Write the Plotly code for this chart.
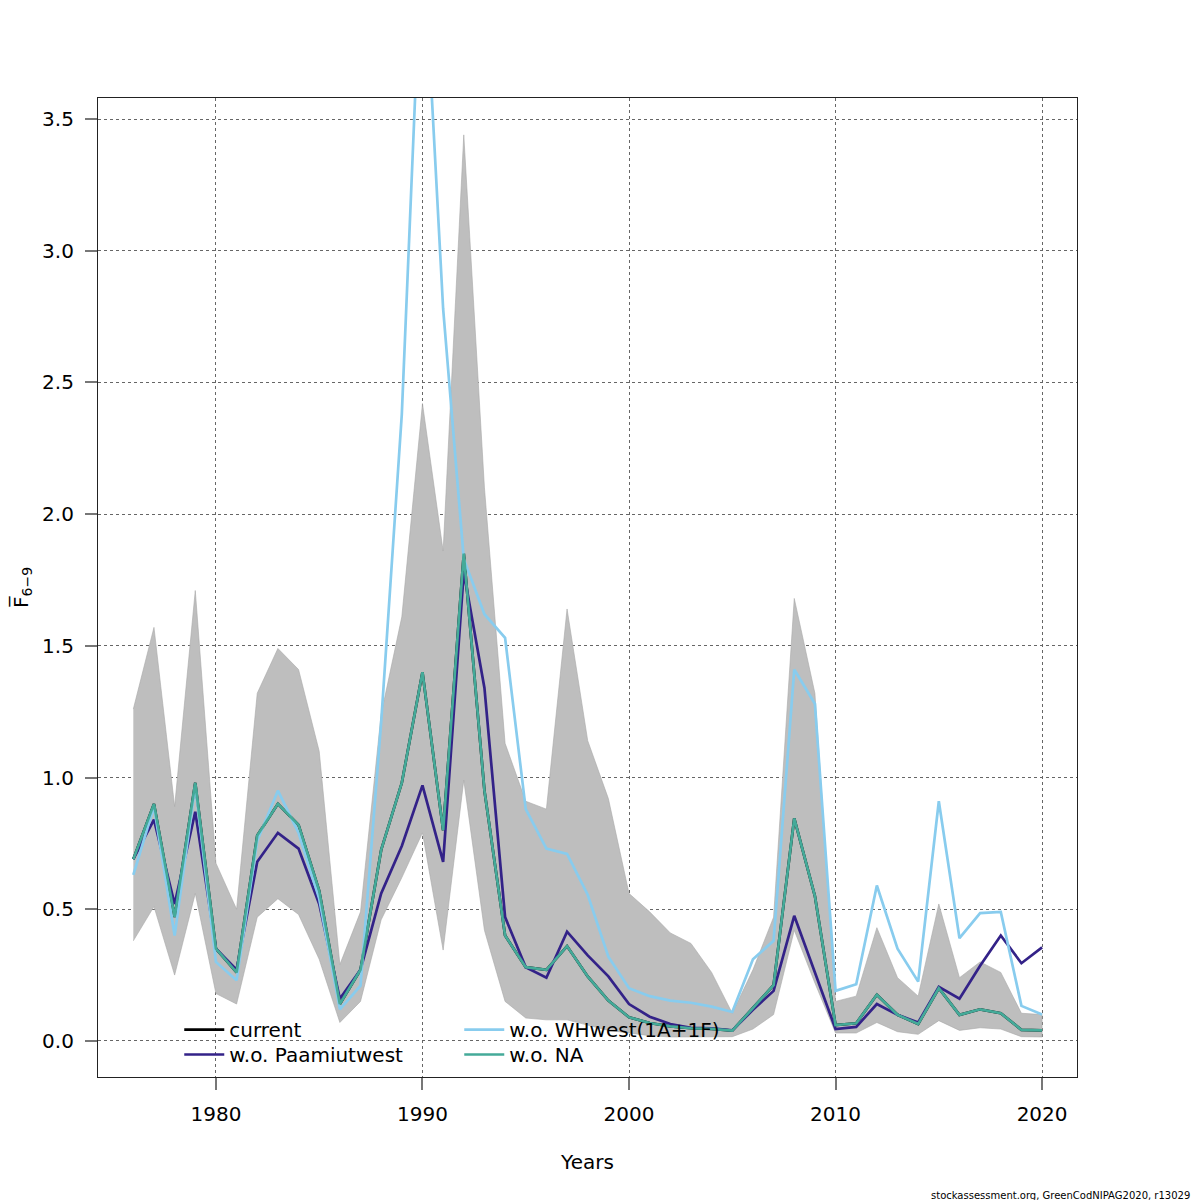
import plotly.graph_objects as go

# Anos e estimativas de F(6-9)
anos = list(range(1976, 2021))

corrente = [0.69, 0.90, 0.47, 0.98, 0.35, 0.26, 0.78, 0.90, 0.82, 0.57,
            0.14, 0.27, 0.725, 0.98, 1.40, 0.80, 1.85, 0.95, 0.40, 0.28,
            0.27, 0.36, 0.245, 0.153, 0.09, 0.068, 0.055, 0.048, 0.046, 0.039,
            0.125, 0.212, 0.845, 0.55, 0.06, 0.067, 0.175, 0.099, 0.064, 0.20,
            0.099, 0.12, 0.105, 0.042, 0.04]

limite_sup = [1.26, 1.57, 0.89, 1.71, 0.675, 0.50, 1.32, 1.49, 1.41, 1.10,
              0.29, 0.49, 1.24, 1.61, 2.42, 1.86, 3.44, 2.10, 1.13, 0.91,
              0.88, 1.64, 1.14, 0.92, 0.56, 0.49, 0.41, 0.37, 0.26, 0.105,
              0.27, 0.47, 1.68, 1.32, 0.15, 0.17, 0.43, 0.24, 0.17, 0.52,
              0.24, 0.30, 0.26, 0.105, 0.10]

limite_inf = [0.38, 0.51, 0.25, 0.56, 0.18, 0.14, 0.47, 0.54, 0.48, 0.31,
              0.07, 0.15, 0.46, 0.62, 0.79, 0.345, 0.99, 0.42, 0.15, 0.087,
              0.08, 0.08, 0.06, 0.04, 0.03, 0.02, 0.015, 0.015, 0.015, 0.016,
              0.045, 0.10, 0.42, 0.22, 0.03, 0.03, 0.07, 0.035, 0.025, 0.077,
              0.04, 0.05, 0.045, 0.016, 0.015]

sem_paamiut = [0.69, 0.84, 0.52, 0.87, 0.35, 0.27, 0.68, 0.79, 0.73, 0.52,
               0.16, 0.27, 0.56, 0.74, 0.97, 0.68, 1.78, 1.34, 0.47, 0.28,
               0.24, 0.415, 0.325, 0.245, 0.14, 0.092, 0.064, 0.05, 0.048, 0.04,
               0.118, 0.19, 0.475, 0.26, 0.045, 0.053, 0.14, 0.099, 0.07, 0.205,
               0.16, 0.285, 0.40, 0.295, 0.355]

sem_whwest = [0.63, 0.89, 0.40, 0.97, 0.30, 0.23, 0.76, 0.95, 0.79, 0.54,
              0.12, 0.21, 1.21, 2.38, 4.25, 2.78, 1.83, 1.62, 1.53, 0.88,
              0.73, 0.71, 0.555, 0.32, 0.20, 0.17, 0.153, 0.145, 0.13, 0.11,
              0.31, 0.38, 1.41, 1.28, 0.19, 0.215, 0.59, 0.35, 0.225, 0.91,
              0.39, 0.485, 0.49, 0.133, 0.10]

sem_na = list(corrente)

fig = go.Figure()

# Banda de confiança (cinza)
fig.add_trace(go.Scatter(
    x=anos + anos[::-1],
    y=limite_sup + limite_inf[::-1],
    fill='toself',
    fillcolor='#BEBEBE',
    line=dict(color='#A8A8A8', width=0.6),
    mode='lines',
    hoverinfo='skip',
    showlegend=False
))

# uma legenda por item, para imitar a grade 2x2 do original
series = [
    ('current', corrente, 'black', 'legend'),
    ('w.o. Paamiutwest', sem_paamiut, '#332288', 'legend2'),
    ('w.o. WHwest(1A+1F)', sem_whwest, '#88CCEE', 'legend3'),
    ('w.o. NA', sem_na, '#44AA99', 'legend4'),
]
for nome, valores, cor, leg in series:
    fig.add_trace(go.Scatter(
        x=anos, y=valores, mode='lines', name=nome,
        line=dict(color=cor, width=2.7),
        legend=leg
    ))

eixo = dict(
    showline=True, linecolor='#222222', linewidth=1.2, mirror=True,
    ticks='outside', ticklen=12, tickcolor='#777777', tickwidth=1.5,
    showgrid=True, gridcolor='#666666', griddash='dot', gridwidth=1,
    zeroline=False, automargin=False, ticklabelstandoff=7,
    tickfont=dict(size=20, color='black'),
)

fig.update_xaxes(
    **eixo,
    range=[1974.29, 2021.69],
    tickvals=[1980, 1990, 2000, 2010, 2020],
    title=dict(text='Years', font=dict(size=20, color='black'), standoff=29),
)
fig.update_yaxes(
    **eixo,
    range=[-0.137, 3.58],
    tickvals=[0, 0.5, 1, 1.5, 2, 2.5, 3, 3.5],
    ticktext=['0.0', '0.5', '1.0', '1.5', '2.0', '2.5', '3.0', '3.5'],
    title=dict(text='F\u0305<sub>6\u22129</sub>', font=dict(size=20, color='black'), standoff=50),
)

legenda = dict(
    font=dict(size=20, color='black', family='DejaVu Sans'),
    bgcolor='rgba(0,0,0,0)',
    xanchor='left', yanchor='top',
    tracegroupgap=0, itemwidth=40,
)

fig.update_layout(
    width=1192, height=1192,
    margin=dict(l=90, r=123, t=90, b=123),
    plot_bgcolor='white', paper_bgcolor='white',
    font=dict(family='DejaVu Sans', color='black'),
    legend=dict(**legenda, x=0.083, y=0.0684),
    legend2=dict(**legenda, x=0.083, y=0.0429),
    legend3=dict(**legenda, x=0.369, y=0.0684),
    legend4=dict(**legenda, x=0.369, y=0.0429),
    annotations=[dict(
        text='stockassessment.org, GreenCodNIPAG2020, r13029',
        xref='paper', yref='paper', x=1.117, y=-0.113,
        xanchor='right', yanchor='top', showarrow=False,
        font=dict(size=10, color='black')
    )]
)

fig.write_html('out.html')
